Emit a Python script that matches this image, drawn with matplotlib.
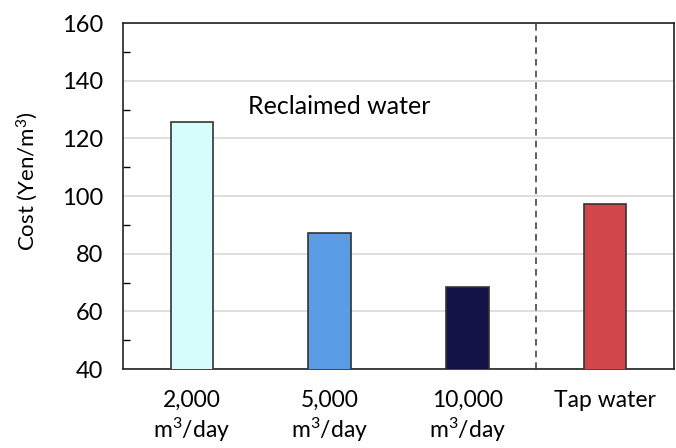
import numpy as np
import matplotlib
matplotlib.use('Agg')
from matplotlib import pyplot as plt
from matplotlib.ticker import MultipleLocator

# data
categories = ['2,000\n$\\mathregular{m^3}$/day', '5,000\n$\\mathregular{m^3}$/day',
              '10,000\n$\\mathregular{m^3}$/day', 'Tap water']
costs = [125.7, 87.2, 68.4, 97.2]
colors = ['#D6FCFC', '#5B9CE6', '#141347', '#D0464A']

plt.rcParams['font.family'] = ['Lato', 'DejaVu Sans']
plt.rcParams['mathtext.fontset'] = 'custom'
plt.rcParams['mathtext.rm'] = 'Lato'

fig = plt.figure(figsize=(6.76, 4.48), dpi=100)
ax = fig.add_axes([123/676, 1-369/448, 551/676, 346/448])

x = np.arange(len(categories))
ax.bar(x, costs, width=0.31, color=colors, edgecolor='#333333', linewidth=1.2, zorder=3)

ax.set_xlim(-0.5, len(categories) - 0.5)
ax.set_ylim(40, 160)
ax.yaxis.set_major_locator(MultipleLocator(20))
ax.yaxis.set_minor_locator(MultipleLocator(10))
ax.grid(axis='y', color='#d9d9d9', linewidth=1.2, zorder=0)

# separator between reclaimed and tap water
ax.axvline(2.5, color='#444444', linestyle=(0, (4, 3)), linewidth=1.2, zorder=2)

ax.text(1.07, 131, 'Reclaimed water', fontsize=18, ha='center', va='center')

ax.set_xticks(x)
ax.set_xticklabels(categories, fontsize=16.5, linespacing=1.2)
ax.tick_params(axis='x', length=0, pad=15)
ax.tick_params(axis='y', which='major', length=0, labelsize=17, pad=14)
ax.tick_params(axis='y', which='minor', direction='in', length=5, width=1)
ax.set_ylabel('Cost (Yen/$\\mathregular{m^3}$)', fontsize=16)
ax.yaxis.set_label_coords(-0.151, 0.543)

for s in ax.spines.values():
    s.set_color('#222222')
    s.set_linewidth(1.2)

fig.savefig('out.png', dpi=100)
